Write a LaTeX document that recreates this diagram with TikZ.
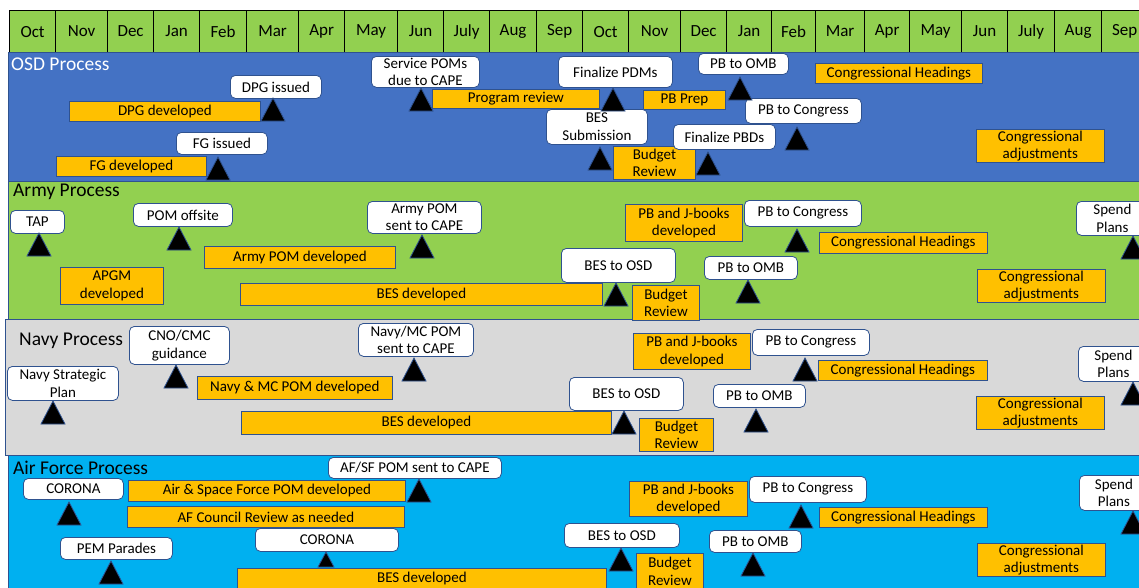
\documentclass[tikz,border=0pt]{standalone}
\usepackage{fontspec}
\setmainfont{Carlito}
\usepackage{tikz}
\usetikzlibrary{positioning}

\newcommand{\boxfont}{\fontsize{15}{17.5}\selectfont}
\newcommand{\lanefont}{\fontsize{19.5}{22}\selectfont}
\newcommand{\monthfont}{\fontsize{17}{19}\selectfont}

\tikzset{
  evt/.style={draw=edge,fill=white,rounded corners=5pt,line width=0.8pt,inner sep=0pt,align=center,anchor=north west,font=\boxfont},
  act/.style={draw=edge,fill=bar,line width=0.8pt,inner sep=0pt,align=center,anchor=north west,font=\boxfont},
  lane/.style={draw=edge,line width=0.8pt},
  lanetitle/.style={anchor=west,inner sep=0pt,font=\lanefont},
  month/.style={draw=black,fill=hdr,line width=1.2pt,inner sep=0pt,font=\monthfont}
}

\begin{document}
\begin{tikzpicture}[x=1pt,y=-1pt]
\definecolor{osdblue}{HTML}{4472C4}
\definecolor{armygreen}{HTML}{92D050}
\definecolor{navygray}{HTML}{D9D9D9}
\definecolor{afblue}{HTML}{00B0F0}
\definecolor{hdr}{HTML}{92D050}
\definecolor{bar}{HTML}{FFC000}
\definecolor{edge}{HTML}{2F528F}

\clip (0,0) rectangle (1139,587);
\fill[white] (0,0) rectangle (1139,587);

% month header
\foreach \a/\b/\m [count=\i] in {9/55/Oct,55/107/Nov,107/153/Dec,153/199/Jan,199/246/Feb,246/298/Mar,298/344/Apr,344/397/May,397/443/Jun,443/489/July,489/536/Aug,536/582/Sep,582/628/Oct,628/680/Nov,680/726/Dec,726/771/Jan,771/815/Feb,815/864/Mar,864/909/Apr,909/961/May,961/1007/Jun,1007/1054/July,1054/1101/Aug,1101/1147/Sep} {
  \node[month,minimum width=\b-\a,minimum height=42pt,anchor=north west] (m\i) at (\a,10) {\m};
}

% swim lanes
\draw[lane,fill=osdblue] (8,52) rectangle (1145,181);
\draw[lane,fill=armygreen] (8,181) rectangle (1145,319);
\draw[lane,fill=navygray] (5,319) rectangle (1145,455);
\draw[lane,fill=afblue] (8,455) rectangle (1145,592);

\node[lanetitle,text=white] (osd-title) at (11,64) {OSD Process};
\node[lanetitle] (army-title) at (13,192) {Army Process};
\node[lanetitle] (navy-title) at (19,341) {Navy Process};
\node[lanetitle] (af-title) at (13,468) {Air Force Process};

% OSD
\node[evt,minimum width=91pt,minimum height=23pt] (osd-dpgiss) at (230,75) {DPG issued};
\node[act,minimum width=191pt,minimum height=20pt] (osd-dpgdev) at (69,101) {DPG developed};
\node[evt,minimum width=91pt,minimum height=22pt] (osd-fgiss) at (176,132) {FG issued};
\node[act,minimum width=150pt,minimum height=20pt] (osd-fgdev) at (56,156) {FG developed};
\node[evt,minimum width=108pt,minimum height=31pt] (osd-pomcape) at (371,56) {Service POMs\\due to CAPE};
\node[act,minimum width=167pt,minimum height=19pt] (osd-progrev) at (432,89) {Program review};
\node[evt,minimum width=114pt,minimum height=31pt] (osd-pdm) at (558,56) {Finalize PDMs};
\node[act,minimum width=82pt,minimum height=19pt] (osd-pbprep) at (643,90) {PB Prep};
\node[evt,minimum width=90pt,minimum height=21pt] (osd-pbomb) at (698,53) {PB to OMB};
\node[evt,minimum width=101pt,minimum height=35pt] (osd-bes) at (546,109) {BES\\Submission};
\node[act,minimum width=82pt,minimum height=33pt] (osd-budrev) at (613,146) {Budget\\Review};
\node[evt,minimum width=102pt,minimum height=25pt] (osd-pbd) at (673,124) {Finalize PBDs};
\node[evt,minimum width=116pt,minimum height=25pt] (osd-pbcong) at (745,98) {PB to Congress};
\node[act,minimum width=167pt,minimum height=20pt] (osd-conghead) at (815,63) {Congressional Headings};
\node[act,minimum width=128pt,minimum height=33pt] (osd-congadj) at (976,129) {Congressional\\adjustments};

% Army
\node[evt,minimum width=54pt,minimum height=23pt] (army-tap) at (10,210) {TAP};
\node[evt,minimum width=99pt,minimum height=23pt] (army-offsite) at (133,203) {POM offsite};
\node[act,minimum width=103pt,minimum height=37pt] (army-apgm) at (60,267) {APGM\\developed};
\node[act,minimum width=191pt,minimum height=22pt] (army-pomdev) at (204,246) {Army POM developed};
\node[evt,minimum width=114pt,minimum height=32pt] (army-pomcape) at (367,201) {Army POM\\sent to CAPE};
\node[act,minimum width=362pt,minimum height=22pt] (army-besdev) at (240,283) {BES developed};
\node[evt,minimum width=114pt,minimum height=34pt] (army-besosd) at (561,248) {BES to OSD};
\node[act,minimum width=67pt,minimum height=35pt] (army-budrev) at (632,285) {Budget\\Review};
\node[act,minimum width=117pt,minimum height=37pt] (army-jbooks) at (625,204) {PB and J-books\\developed};
\node[evt,minimum width=117pt,minimum height=26pt] (army-pbcong) at (744,200) {PB to Congress};
\node[evt,minimum width=93pt,minimum height=23pt] (army-pbomb) at (704,256) {PB to OMB};
\node[act,minimum width=168pt,minimum height=21pt] (army-conghead) at (819,232) {Congressional Headings};
\node[act,minimum width=128pt,minimum height=33pt] (army-congadj) at (977,269) {Congressional\\adjustments};
\node[evt,minimum width=72pt,minimum height=34pt] (army-spend) at (1076,201) {Spend\\Plans};

% Navy
\node[evt,minimum width=100pt,minimum height=38pt] (navy-guid) at (129,326) {CNO/CMC\\guidance};
\node[evt,minimum width=111pt,minimum height=34pt] (navy-strat) at (7,366) {Navy Strategic\\Plan};
\node[act,minimum width=195pt,minimum height=23pt] (navy-pomdev) at (197,376) {Navy \& MC POM developed};
\node[evt,minimum width=115pt,minimum height=33pt] (navy-pomcape) at (358,323) {Navy/MC POM\\sent to CAPE};
\node[act,minimum width=370pt,minimum height=23pt] (navy-besdev) at (241,411) {BES developed};
\node[evt,minimum width=114pt,minimum height=33pt] (navy-besosd) at (569,377) {BES to OSD};
\node[act,minimum width=74pt,minimum height=33pt] (navy-budrev) at (639,418) {Budget\\Review};
\node[act,minimum width=117pt,minimum height=36pt] (navy-jbooks) at (633,333) {PB and J-books\\developed};
\node[evt,minimum width=117pt,minimum height=26pt] (navy-pbcong) at (752,329) {PB to Congress};
\node[evt,minimum width=92pt,minimum height=23pt] (navy-pbomb) at (713,384) {PB to OMB};
\node[act,minimum width=169pt,minimum height=20pt] (navy-conghead) at (818,360) {Congressional Headings};
\node[act,minimum width=128pt,minimum height=33pt] (navy-congadj) at (976,396) {Congressional\\adjustments};
\node[evt,minimum width=70pt,minimum height=35pt] (navy-spend) at (1078,346) {Spend\\Plans};

% Air Force
\node[evt,minimum width=100pt,minimum height=21pt] (af-corona) at (23,478) {CORONA};
\node[act,minimum width=277pt,minimum height=21pt] (af-pomdev) at (128,480) {Air \& Space Force POM developed};
\node[act,minimum width=277pt,minimum height=21pt] (af-council) at (127,506) {AF Council Review as needed};
\node[evt,minimum width=173pt,minimum height=21pt] (af-pomcape) at (328,457) {AF/SF POM sent to CAPE};
\node[evt,minimum width=112pt,minimum height=22pt] (af-pem) at (60,537) {PEM Parades};
\node[evt,minimum width=143pt,minimum height=23pt] (af-corona2) at (255,528) {CORONA};
\node[act,minimum width=369pt,minimum height=20pt] (af-besdev) at (237,568) {BES developed};
\node[evt,minimum width=115pt,minimum height=24pt] (af-besosd) at (564,523) {BES to OSD};
\node[act,minimum width=67pt,minimum height=36pt] (af-budrev) at (636,553) {Budget\\Review};
\node[act,minimum width=118pt,minimum height=35pt] (af-jbooks) at (629,481) {PB and J-books\\developed};
\node[evt,minimum width=117pt,minimum height=26pt] (af-pbcong) at (749,476) {PB to Congress};
\node[evt,minimum width=92pt,minimum height=22pt] (af-pbomb) at (709,530) {PB to OMB};
\node[act,minimum width=168pt,minimum height=20pt] (af-conghead) at (819,507) {Congressional Headings};
\node[act,minimum width=128pt,minimum height=33pt] (af-congadj) at (977,543) {Congressional\\adjustments};
\node[evt,minimum width=69pt,minimum height=35pt] (af-spend) at (1079,475) {Spend\\Plans};

% milestones
\foreach \x/\y in {273/98,218/157,421/88,613/88,740/77,600/147,708/152,797/127,
  39/233,179/227,422/235,616/283,797/229,748/280,1133/236,
  176/365,53/401,414/358,624/411,805/358,756/409,1133/382,
  69/502,419/479,111/561,621/548,801/505,753/553,1133/511} {
  \draw[fill=black,draw=edge,line width=0.8pt] (\x,\y) -- ++(-12,23) -- ++(24,0) -- cycle;
}
\draw[fill=black,draw=edge,line width=0.8pt] (326,552) -- ++(-8,15) -- ++(16,0) -- cycle;
\end{tikzpicture}
\end{document}
